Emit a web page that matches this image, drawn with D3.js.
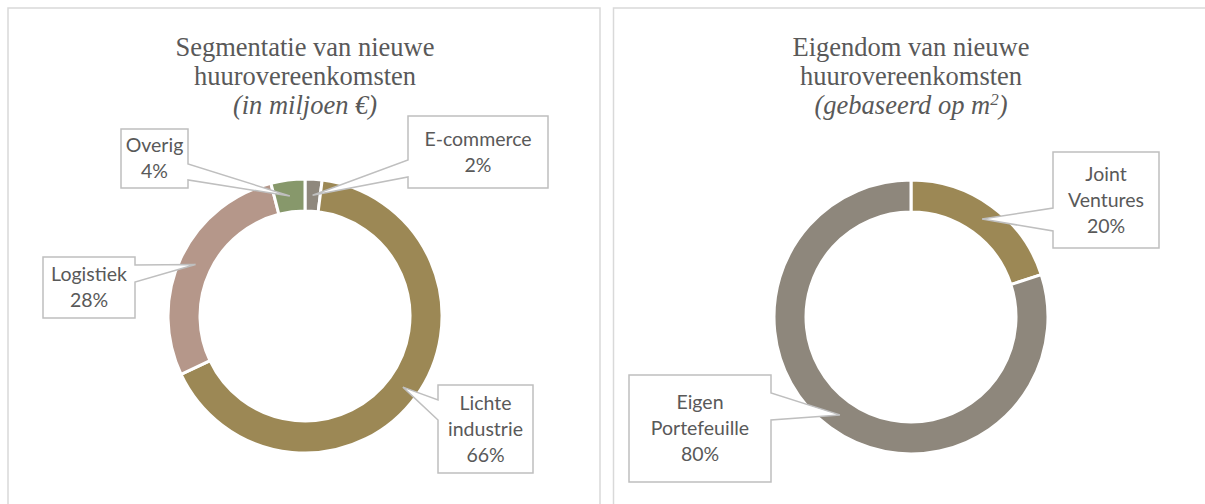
<!DOCTYPE html>
<html>
<head>
<meta charset="utf-8">
<script src="https://cdn.jsdelivr.net/npm/d3@7"></script>
<style>
  body { margin: 0; background: #fff; }
  svg { display: block; }
</style>
</head>
<body>
<svg id="chart" width="1205" height="504"></svg>
<script>
// left chart: segmentation (share of € million)
const segCategories = ['E-commerce', 'Lichte industrie', 'Logistiek', 'Overig'];
const segValues = [2, 66, 28, 4];
const segColors = ['#8f887d', '#9c8855', '#b5978a', '#87986b'];
const segLabels = [['E-commerce', '2%'], ['Lichte', 'industrie', '66%'], ['Logistiek', '28%'], ['Overig', '4%']];

// right chart: ownership (share of m2)
const ownCategories = ['Joint Ventures', 'Eigen Portefeuille'];
const ownValues = [20, 80];
const ownColors = ['#9c8855', '#8e877c'];
const ownLabels = [['Joint', 'Ventures', '20%'], ['Eigen', 'Portefeuille', '80%']];

// callout boxes (layout only)
const segBoxes = [
  { x: 408, y: 116, w: 140, h: 72, side: 'left', b0: 160, b1: 177 },
  { x: 438, y: 385, w: 95, h: 88, side: 'left', b0: 400, b1: 420 },
  { x: 43, y: 257, w: 92, h: 61, side: 'right', b0: 265, b1: 282 },
  { x: 121, y: 129, w: 67, h: 59, side: 'right', b0: 164, b1: 180 }
];
const ownBoxes = [
  { x: 1053, y: 152, w: 106, h: 96, side: 'left', b0: 208, b1: 231 },
  { x: 629, y: 375, w: 142, h: 107, side: 'right', b0: 393, b1: 420 }
];

const svg = d3.select('#chart');
const textColor = '#595959';
const outerR = 137, innerR = 105;

// panel borders
svg.append('rect').attr('x', 8).attr('y', 8).attr('width', 592).attr('height', 520)
  .attr('fill', 'none').attr('stroke', '#d9d9d9').attr('stroke-width', 1.5);
svg.append('rect').attr('x', 613.5).attr('y', 8).attr('width', 620).attr('height', 520)
  .attr('fill', 'none').attr('stroke', '#d9d9d9').attr('stroke-width', 1.5);

function drawTitle(cx, lines, sub) {
  const t = svg.append('text')
    .attr('text-anchor', 'middle')
    .attr('fill', textColor)
    .style('font-family', '"Liberation Serif", "Times New Roman", serif')
    .style('font-size', '26.5px');
  lines.forEach((l, i) => {
    t.append('tspan').attr('x', cx).attr('y', 56 + i * 29).text(l);
  });
  const s = t.append('tspan').attr('x', cx).attr('y', 56 + lines.length * 29)
    .style('font-style', 'italic');
  sub(s);
}

function calloutPath(b, tip) {
  const [tx, ty] = tip;
  if (b.side === 'left') {
    return `M${b.x},${b.y}H${b.x + b.w}V${b.y + b.h}H${b.x}V${b.b1}L${tx},${ty}L${b.x},${b.b0}Z`;
  }
  const r = b.x + b.w;
  return `M${b.x},${b.y}H${r}V${b.b0}L${tx},${ty}L${r},${b.b1}V${b.y + b.h}H${b.x}Z`;
}

function drawDonut(cx, cy, categories, values, colors, labels, boxes) {
  const pie = d3.pie().sort(null).value(d => d)(values);
  const arc = d3.arc().innerRadius(innerR).outerRadius(outerR);
  const mid = d3.arc().innerRadius((innerR + outerR) / 2).outerRadius((innerR + outerR) / 2);
  const g = svg.append('g').attr('transform', `translate(${cx},${cy})`);

  g.selectAll('path.slice')
    .data(pie)
    .join('path')
    .attr('class', 'slice')
    .attr('d', arc)
    .attr('fill', (d, i) => colors[i])
    .attr('stroke', '#fff')
    .attr('stroke-width', 3);

  pie.forEach((d, i) => {
    const c = mid.centroid(d);
    const tip = [cx + c[0], cy + c[1]];
    const b = boxes[i];
    svg.append('path')
      .attr('d', calloutPath(b, tip))
      .attr('fill', '#fff')
      .attr('stroke', '#bfbfbf')
      .attr('stroke-width', 1.5);
    const lines = labels[i];
    const lh = 26;
    const y0 = b.y + b.h / 2 - (lines.length - 1) * lh / 2;
    const t = svg.append('text')
      .attr('text-anchor', 'middle')
      .attr('fill', textColor)
      .style('font-family', 'Lato, "Open Sans", sans-serif')
      .style('font-size', '19.5px');
    lines.forEach((l, j) => {
      t.append('tspan').attr('x', b.x + b.w / 2).attr('y', y0 + j * lh).attr('dy', '0.35em').text(l);
    });
  });
}

drawTitle(305, ['Segmentatie van nieuwe', 'huurovereenkomsten'], s => s.text('(in miljoen €)'));
drawTitle(911, ['Eigendom van nieuwe', 'huurovereenkomsten'], s => {
  s.text('(gebaseerd op m');
  s.append('tspan').attr('dy', -9).style('font-size', '17px').text('2');
  s.append('tspan').attr('dy', 9).text(')');
});

drawDonut(305, 316, segCategories, segValues, segColors, segLabels, segBoxes);
drawDonut(911, 317, ownCategories, ownValues, ownColors, ownLabels, ownBoxes);
</script>
</body>
</html>
